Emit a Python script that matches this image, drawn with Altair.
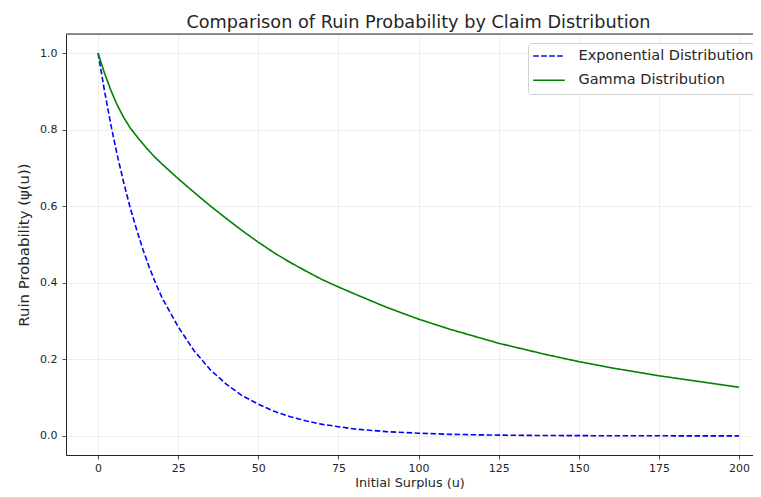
import altair as alt
import pandas as pd

# Exponential claim distribution: values
u_exp = [0, 2, 4, 6, 8, 10, 12, 14, 16, 18, 20, 25, 30, 35, 40, 45, 50, 55, 60, 65,
         70, 75, 80, 90, 100, 110, 120, 130, 140, 150, 160, 170, 180, 190, 200]
psi_exp = [1.0, 0.902, 0.813, 0.733, 0.662, 0.597, 0.540, 0.487, 0.440, 0.398, 0.360,
           0.285, 0.222, 0.173, 0.135, 0.105, 0.083, 0.064, 0.050, 0.039,
           0.030, 0.024, 0.018, 0.011, 0.007, 0.004, 0.0025, 0.0015, 0.0009, 0.0006,
           0.0003, 0.0002, 0.0001, 0.0001, 0.00005]

# Gamma claim distribution: values
u_gam = [0, 2, 4, 5, 6, 8, 10, 12.5, 15, 17.5, 20, 25, 30, 35, 40, 45, 50, 55, 60, 65,
         70, 75, 80, 90, 100, 110, 125, 140, 150, 160, 175, 190, 200]
psi_gam = [1.0, 0.948, 0.903, 0.883, 0.864, 0.832, 0.805, 0.778, 0.753, 0.730, 0.710,
           0.672, 0.636, 0.601, 0.568, 0.536, 0.506, 0.478, 0.453, 0.430,
           0.408, 0.389, 0.371, 0.336, 0.305, 0.278, 0.242, 0.212, 0.194, 0.178,
           0.157, 0.139, 0.127]

series_names = ["Exponential Distribution", "Gamma Distribution"]
series_colors = ["#0000ff", "#008000"]
series_dash = [[5.5, 2.5], [1, 0]]

x_ticks = [0, 25, 50, 75, 100, 125, 150, 175, 200]
y_ticks = [0.0, 0.2, 0.4, 0.6, 0.8, 1.0]

df = pd.concat([
    pd.DataFrame({"u": u_exp, "psi": psi_exp, "series": series_names[0]}),
    pd.DataFrame({"u": u_gam, "psi": psi_gam, "series": series_names[1]}),
])

FONT = "DejaVu Sans"
INK = "#262626"

W, H = 687, 421
x_scale = alt.Scale(domain=[-10, 204.35], nice=False, zero=False)
y_scale = alt.Scale(domain=[-0.05, 1.05], nice=False, zero=False)

lines = alt.Chart(df).mark_line(strokeWidth=1.6, clip=True).encode(
    x=alt.X("u:Q", scale=x_scale,
            axis=alt.Axis(title="Initial Surplus (u)", values=x_ticks, format="d",
                          grid=True, gridColor="#e8e8e8", gridWidth=0.8,
                          domain=True, domainColor=INK, domainWidth=1,
                          ticks=True, tickColor=INK, tickSize=4, tickWidth=0.8,
                          labelFont=FONT, labelFontSize=11, labelColor=INK,
                          labelPadding=3,
                          titleFont=FONT, titleFontSize=12.8, titleFontWeight="normal",
                          titleColor=INK, titleBaseline="alphabetic", titleY=31.2)),
    y=alt.Y("psi:Q", scale=y_scale,
            axis=alt.Axis(title="Ruin Probability (ψ(u))", values=y_ticks, format=".1f",
                          grid=True, gridColor="#e8e8e8", gridWidth=0.8,
                          domain=True, domainColor=INK, domainWidth=1,
                          ticks=True, tickColor=INK, tickSize=4, tickWidth=0.8,
                          labelFont=FONT, labelFontSize=11, labelColor=INK,
                          labelPadding=5,
                          titleFont=FONT, titleFontSize=14.9, titleFontWeight="normal",
                          titleColor=INK, titlePadding=8)),
    color=alt.Color("series:N",
                    scale=alt.Scale(domain=series_names, range=series_colors),
                    legend=alt.Legend(title=None, orient="none", legendX=462, legendY=9,
                                      symbolType="stroke", symbolSize=1000,
                                      symbolStrokeWidth=1.6, clipHeight=18,
                                      labelFont=FONT, labelFontSize=14.5,
                                      labelColor=INK, labelOffset=12.5, labelLimit=400,
                                      rowPadding=6.3, padding=4,
                                      strokeColor="#d0d0d0", fillColor="white",
                                      cornerRadius=3)),
    strokeDash=alt.StrokeDash("series:N",
                              scale=alt.Scale(domain=series_names, range=series_dash),
                              legend=None),
)

top_spine = alt.Chart(pd.DataFrame({"k": [0]})).mark_rule(
    color=INK, strokeWidth=1
).encode(x=alt.value(0), x2=alt.value(W), y=alt.value(0))

chart = alt.layer(lines, top_spine).properties(
    width=W,
    height=H,
    autosize=alt.AutoSizeParams(type="none"),
    padding={"left": 58, "top": 26, "right": 0, "bottom": 34},
    title=alt.TitleParams("Comparison of Ruin Probability by Claim Distribution",
                          font=FONT, fontSize=17.7, fontWeight="normal",
                          color=INK, anchor="middle", dx=9, offset=2),
).configure_view(stroke=None).configure(background="white")

chart.save("out.html", embed_options={"renderer": "svg", "actions": False})
